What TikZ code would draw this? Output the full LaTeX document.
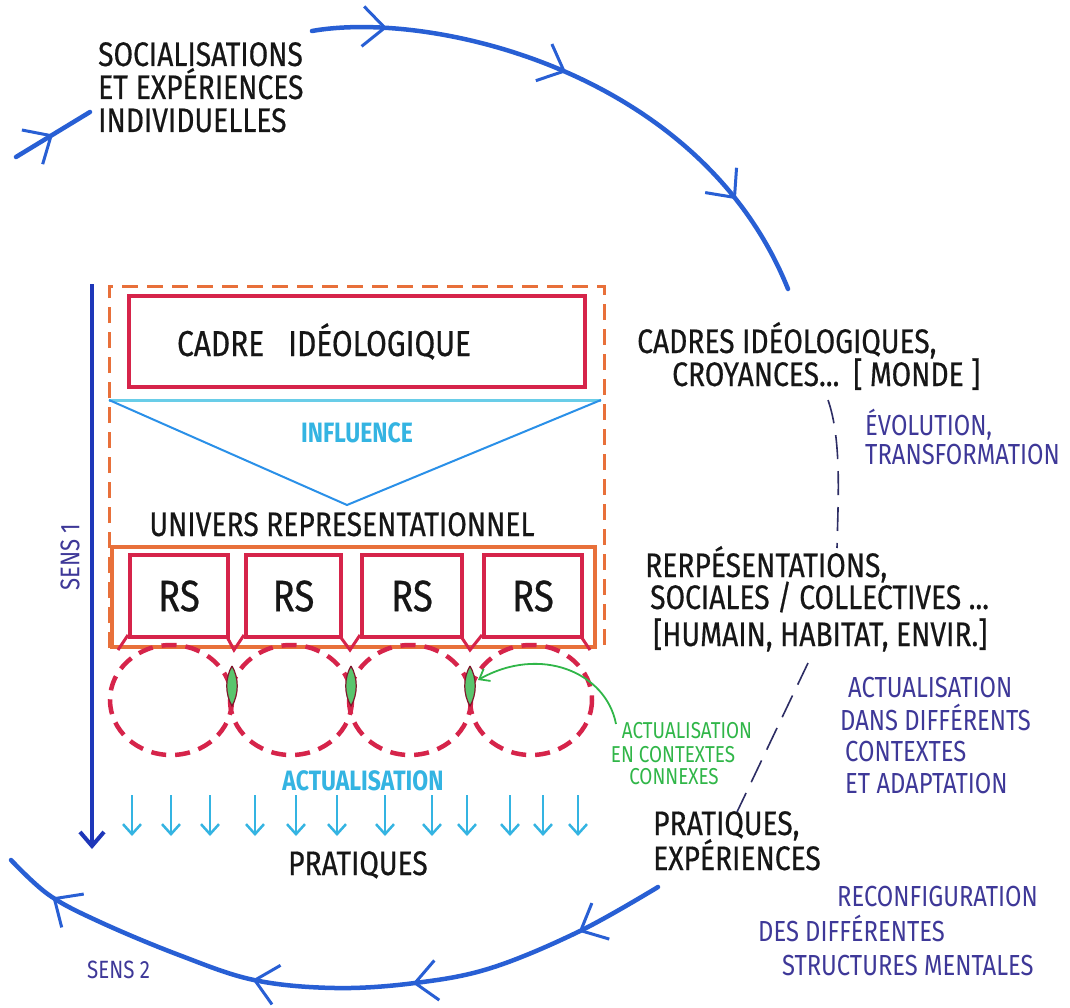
\documentclass[tikz,border=0pt]{standalone}
\usepackage{fontspec}
\usetikzlibrary{arrows.meta,decorations.markings}
\newfontfamily\hand[FakeStretch=0.83,FakeBold=0.5]{Fira Sans}
\newfontfamily\handl[FakeStretch=0.82]{Fira Sans}
\definecolor{arcblue}{RGB}{40,95,212}
\definecolor{sensblue}{RGB}{30,55,185}
\definecolor{orng}{RGB}{232,112,58}
\definecolor{redd}{RGB}{214,36,74}
\definecolor{cyn}{RGB}{52,180,226}
\definecolor{lcyn}{RGB}{105,205,232}
\definecolor{grn}{RGB}{48,182,72}
\definecolor{purp}{RGB}{62,56,152}
\definecolor{ink}{RGB}{22,22,22}
\definecolor{linkc}{RGB}{45,45,100}
\begin{document}
\begin{tikzpicture}[x=1pt,y=-1pt,
  blk/.style={font=\hand\fontsize{34}{36}\selectfont, text=ink, inner sep=0pt},
  rs/.style={font=\hand\fontsize{44}{46}\selectfont, text=ink, inner sep=0pt},
  pur/.style={font=\handl\fontsize{29}{31}\selectfont, text=purp, inner sep=0pt},
  grt/.style={font=\handl\fontsize{23}{25}\selectfont, text=grn, inner sep=0pt},
  cyt/.style={font=\handl\bfseries\fontsize{28}{30}\selectfont, text=cyn, inner sep=0pt},
  cyc/.style={draw=arcblue, line width=4.5pt, line cap=round},
  barb/.style={arcblue, line width=3pt},
  bigbarb/.style={Straight Barb[length=22pt,width=40pt]},
  redbox/.style={draw=redd, line width=4pt},
  orbox/.style={draw=orng, line width=4pt},
  ordash/.style={draw=orng, line width=3pt, dash pattern=on 16pt off 9pt},
  reddash/.style={draw=redd, line width=4.5pt, dash pattern=on 15pt off 9pt},
  link/.style={draw=linkc, line width=1.6pt, dash pattern=on 24pt off 12pt},
  smallarr/.style={draw=cyn, line width=2.5pt, -{Straight Barb[length=10pt,width=18pt]}},
]
\fill[white] (0,0) rectangle (1070,1008);
\useasboundingbox (0,0) rectangle (1070,1008);

% ---- cycle arcs ----
\draw[cyc, postaction={decorate}, decoration={markings,
   mark=at position 0.13 with {\arrow[barb]{Straight Barb[length=22pt,width=40pt]}},
   mark=at position 0.45 with {\arrow[barb]{Straight Barb[length=22pt,width=40pt]}},
   mark=at position 0.82 with {\arrow[barb]{Straight Barb[length=22pt,width=40pt]}}}]
  (312,31) .. controls (430,10) and (700,70) .. (788,289);
\draw[cyc, postaction={decorate}, decoration={markings,
   mark=at position 0.5 with {\arrow[barb]{Straight Barb[length=22pt,width=40pt]}}}]
  (16,157) -- (90,112);
\draw[cyc, postaction={decorate}, decoration={markings,
   mark=at position 0.13 with {\arrow[barb]{Straight Barb[length=22pt,width=40pt]}},
   mark=at position 0.38 with {\arrow[barb]{Straight Barb[length=22pt,width=40pt]}},
   mark=at position 0.61 with {\arrow[barb]{Straight Barb[length=22pt,width=40pt]}},
   mark=at position 0.92 with {\arrow[barb]{Straight Barb[length=22pt,width=40pt]}}}]
  plot[smooth, tension=0.6] coordinates {(658,887) (580,931) (491,968) (415,983) (335,988) (254,980) (179,955) (100,922) (49,895) (11,860)};

% ---- sens 1 ----
\draw[draw=sensblue, line width=4pt, -{Straight Barb[length=14pt,width=24pt]}] (92,284) -- (92,849);
\node[pur, rotate=90, font=\handl\fontsize{27}{29}\selectfont] (sens1) at (70,557) {SENS 1};

% ---- frames ----
\draw[ordash] (109,648) -- (109,286) -- (604,286) -- (604,648);
\node[redbox, minimum width=456pt, minimum height=91pt, anchor=north west] (cadre) at (127,294) {};
\node[blk, anchor=base, font=\hand\fontsize{36}{38}\selectfont] (cadret) at (324,356) {CADRE\hspace{24pt}IDÉOLOGIQUE};

\draw[draw=lcyn, line width=3pt] (109,400) -- (601,400);
\draw[draw=cyn!80!blue, line width=2pt] (109,400) -- (347,505) -- (601,400);
\node[cyt, anchor=base] (infl) at (357,442) {INFLUENCE};

\node[blk, anchor=base] (univers) at (342,536) {UNIVERS REPRESENTATIONNEL};
\node[orbox, minimum width=483pt, minimum height=100pt, anchor=north west] (univbox) at (110,545) {};

\foreach \n/\l/\r in {1/128/226, 2/244/339, 3/360/460, 4/482/580}{
  \node[redbox, minimum width={\r-\l}, minimum height=82pt, anchor=north west] (rs\n) at (\l,553) {};
  \node[rs] at (rs\n.center) {RS};
}

% ---- actualisation circles ----
\foreach \c in {171,291,410,531}{
  \draw[reddash] (\c,700) ellipse [x radius=61, y radius=55];
}
\draw[redd, line width=3pt] (226,635) -- (234,650) -- (244,635);
\draw[redd, line width=3pt] (339,635) -- (350,650) -- (360,635);
\draw[redd, line width=3pt] (460,635) -- (470,650) -- (482,635);
\draw[redd, line width=3pt] (128,635) -- (118,650);
\draw[redd, line width=3pt] (580,635) -- (590,650);
\foreach \x in {232,351,470}{
  \filldraw[fill=grn!80!white, draw=redd!60!black, line width=1.2pt] (\x,666) .. controls (\x+7,678) and (\x+7,694) .. (\x,706) .. controls (\x-7,694) and (\x-7,678) .. (\x,666);
}
\draw[grn, line width=1.8pt, -{Straight Barb[length=9pt,width=14pt]}] (616,724) .. controls (606,672) and (540,645) .. (478,680);
\node[grt, anchor=base] (g1) at (687,738) {ACTUALISATION};
\node[grt, anchor=base] (g2) at (673,762) {EN CONTEXTES};
\node[grt, anchor=base] (g3) at (674,784) {CONNEXES};

\node[cyt, anchor=base] (actu) at (363,790) {ACTUALISATION};
\foreach \x in {132,171,210,255,296,337,385,432,467,510,543,578}{
  \draw[smallarr] (\x,795) -- (\x,836);
}
\node[blk, anchor=base] (prat) at (358,875) {PRATIQUES};

% ---- left texts ----
\node[blk, anchor=base west] (s1) at (98,66) {SOCIALISATIONS};
\node[blk, anchor=base west] (s2) at (98,99) {ET\hspace{8pt}EXPÉRIENCES};
\node[blk, anchor=base west] (s3) at (98,132) {INDIVIDUELLES};

% ---- right texts ----
\node[blk, anchor=base west] (c1) at (637,353) {CADRES IDÉOLOGIQUES,};
\node[blk, anchor=base west] (c2) at (672,386) {CROYANCES...\hspace{14pt}[ MONDE ]};
\node[pur, anchor=base west] (e1) at (865,435) {ÉVOLUTION,};
\node[pur, anchor=base west] (e2) at (865,464) {TRANSFORMATION};

\node[blk, anchor=base west] (r1) at (645,577) {RERPÉSENTATIONS,};
\node[blk, anchor=base west] (r2) at (650,609) {SOCIALES / COLLECTIVES ...};
\node[blk, anchor=base west] (r3) at (653,646) {[HUMAIN, HABITAT, ENVIR.]};

\node[pur, anchor=base west] (a1) at (848,697) {ACTUALISATION};
\node[pur, anchor=base west] (a2) at (840,730) {DANS DIFFÉRENTS};
\node[pur, anchor=base west] (a3) at (845,761) {CONTEXTES};
\node[pur, anchor=base west] (a4) at (845,793) {ET ADAPTATION};

\node[blk, anchor=base west] (p1) at (653,835) {PRATIQUES,};
\node[blk, anchor=base west] (p2) at (653,870) {EXPÉRIENCES};

\node[pur, anchor=base west] (q1) at (837,906) {RECONFIGURATION};
\node[pur, anchor=base west] (q2) at (758,941) {DES DIFFÉRENTES};
\node[pur, anchor=base west] (q3) at (782,975) {STRUCTURES MENTALES};

\node[pur, anchor=base west, font=\handl\fontsize{25}{27}\selectfont] (sens2) at (87,978) {SENS 2};

% ---- dashed links ----
\coordinate (l1a) at (828,400);
\coordinate (l1b) at (837,548);
\coordinate (l2a) at (808,663);
\coordinate (l2b) at (737,812);
\draw[link] (l1a) .. controls (842,440) and (838,500) .. (l1b);
\draw[link] (l2a) -- (l2b);
\end{tikzpicture}
\end{document}
